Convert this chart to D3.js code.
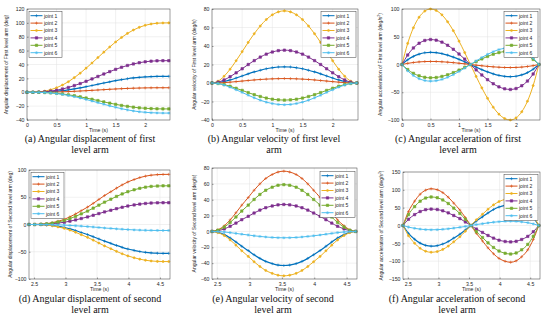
<!DOCTYPE html>
<html>
<head>
<meta charset="utf-8">
<script src="https://cdn.jsdelivr.net/npm/d3@7"></script>
<style>
    body { margin: 0; background: #fff; }
    svg { display: block; }
</style>
</head>
<body>
<div id="chart"></div>
<script>
// Joint series names, colours and marker kinds
const jointNames = ["joint 1", "joint 2", "joint 3", "joint 4", "joint 5", "joint 6"];
const jointColors = ["#0072BD", "#D95319", "#EDB120", "#7E2F8E", "#77AC30", "#4DBEEE"];
const jointMarkers = ["plus", "plus", "dot", "square", "square", "star"];

// Sample times (s)
const timeFirst = [0, 0.1, 0.2, 0.3, 0.4, 0.5, 0.6, 0.7, 0.8, 0.9, 1.0, 1.1, 1.2, 1.3, 1.4, 1.5, 1.6, 1.7, 1.8, 1.9, 2.0, 2.1, 2.2, 2.3, 2.4];
const timeSecond = [2.42, 2.51, 2.61, 2.7, 2.79, 2.88, 2.98, 3.07, 3.16, 3.25, 3.35, 3.44, 3.53, 3.62, 3.72, 3.81, 3.9, 3.99, 4.09, 4.18, 4.27, 4.36, 4.46, 4.55, 4.64];

// (a) angular displacement, first level arm (deg)
const dispFirst = [
    [0, 0, 0.1, 0.4, 0.8, 1.5, 2.4, 3.5, 4.8, 6.3, 8.0, 9.7, 11.5, 13.3, 15.0, 16.7, 18.2, 19.5, 20.6, 21.5, 22.2, 22.6, 22.9, 23.0, 23.0],
    [0, 0, 0.03, 0.1, 0.23, 0.42, 0.67, 0.99, 1.36, 1.79, 2.25, 2.74, 3.25, 3.76, 4.25, 4.71, 5.14, 5.51, 5.83, 6.08, 6.27, 6.4, 6.47, 6.5, 6.5],
    [0, 0.1, 0.5, 1.6, 3.6, 6.5, 10.4, 15.2, 21, 27.5, 34.7, 42.2, 50, 57.8, 65.3, 72.5, 79, 84.8, 89.7, 93.6, 96.5, 98.4, 99.5, 99.9, 100],
    [0, 0, 0.2, 0.7, 1.6, 2.9, 4.7, 6.9, 9.6, 12.5, 15.8, 19.2, 22.8, 26.3, 29.7, 33, 36, 38.6, 40.8, 42.6, 43.9, 44.8, 45.3, 45.5, 45.5],
    [0, 0, -0.1, -0.4, -0.9, -1.5, -2.5, -3.7, -5, -6.6, -8.3, -10.1, -12, -13.9, -15.7, -17.4, -19, -20.3, -21.5, -22.5, -23.1, -23.6, -23.9, -24, -24],
    [0, 0, -0.2, -0.5, -1.1, -1.9, -3.1, -4.6, -6.3, -8.3, -10.4, -12.7, -15, -17.3, -19.6, -21.7, -23.7, -25.4, -26.9, -28.1, -28.9, -29.5, -29.8, -30, -30]
];

// (b) angular velocity, first level arm (deg/s)
const velFirst = [
    [0, 0.5, 1.6, 3.3, 5.4, 7.6, 9.9, 12, 13.8, 15.4, 16.5, 17.3, 17.5, 17.3, 16.5, 15.4, 13.8, 12, 9.9, 7.6, 5.4, 3.3, 1.6, 0.5, 0],
    [0, 0.1, 0.4, 0.9, 1.5, 2.1, 2.7, 3.3, 3.8, 4.2, 4.5, 4.7, 4.8, 4.7, 4.5, 4.2, 3.8, 3.3, 2.7, 2.1, 1.5, 0.9, 0.4, 0.1, 0],
    [0, 2, 7.3, 14.9, 24.1, 33.9, 43.9, 53.3, 61.6, 68.6, 73.7, 76.9, 78, 76.9, 73.7, 68.6, 61.6, 53.3, 43.9, 33.9, 24.1, 14.9, 7.3, 2, 0],
    [0, 0.9, 3.3, 6.8, 11, 15.4, 20, 24.2, 28, 31.2, 33.5, 35, 35.5, 35, 33.5, 31.2, 28, 24.2, 20, 15.4, 11, 6.8, 3.3, 0.9, 0],
    [0, -0.5, -1.7, -3.5, -5.7, -8, -10.4, -12.6, -14.6, -16.3, -17.5, -18.2, -18.5, -18.2, -17.5, -16.3, -14.6, -12.6, -10.4, -8, -5.7, -3.5, -1.7, -0.5, 0],
    [0, -0.6, -2.2, -4.5, -7.3, -10.2, -13.2, -16, -18.6, -20.7, -22.2, -23.2, -23.5, -23.2, -22.2, -20.7, -18.6, -16, -13.2, -10.2, -7.3, -4.5, -2.2, -0.6, 0]
];

// (c) angular acceleration, first level arm (deg/s^2)
const accFirst = [
    [0, 8.4, 14.6, 18.7, 21.2, 22, 21.4, 19.7, 16.9, 13.4, 9.3, 4.7, 0, -4.7, -9.3, -13.4, -16.9, -19.7, -21.4, -22, -21.2, -18.7, -14.6, -8.4, 0],
    [0, 2.1, 3.6, 4.7, 5.3, 5.5, 5.4, 4.9, 4.2, 3.4, 2.3, 1.2, 0, -1.2, -2.3, -3.4, -4.2, -4.9, -5.4, -5.5, -5.3, -4.7, -3.6, -2.1, 0],
    [0, 38, 66.2, 85.2, 96.2, 100, 97.4, 89.5, 77, 60.9, 42.1, 21.5, 0, -21.5, -42.1, -60.9, -77, -89.5, -97.4, -100, -96.2, -85.2, -66.2, -38, 0],
    [0, 17.1, 29.8, 38.3, 43.3, 45, 43.8, 40.3, 34.7, 27.4, 18.9, 9.7, 0, -9.7, -18.9, -27.4, -34.7, -40.3, -43.8, -45, -43.3, -38.3, -29.8, -17.1, 0],
    [0, -9.1, -15.9, -20.4, -23.1, -24, -23.4, -21.5, -18.5, -14.6, -10.1, -5.2, 0, 5.2, 10.1, 14.6, 18.5, 21.5, 23.4, 24, 23.1, 20.4, 15.9, 9.1, 0],
    [0, -11.4, -19.9, -25.6, -28.9, -30, -29.2, -26.9, -23.1, -18.3, -12.6, -6.5, 0, 6.5, 12.6, 18.3, 23.1, 26.9, 29.2, 30, 28.9, 25.6, 19.9, 11.4, 0]
];

// (d) angular displacement, second level arm (deg)
const dispSecond = [
    [0, 0, -0.3, -0.9, -1.9, -3.4, -5.5, -8.1, -11.1, -14.6, -18.4, -22.4, -26.5, -30.6, -34.6, -38.4, -41.9, -44.9, -47.5, -49.6, -51.1, -52.1, -52.7, -53, -53],
    [0, 0.1, 0.5, 1.5, 3.3, 5.9, 9.5, 14, 19.3, 25.3, 31.9, 38.8, 46, 53.2, 60.1, 66.7, 72.7, 78, 82.5, 86.1, 88.7, 90.5, 91.5, 91.9, 92],
    [0, 0, -0.3, -1.1, -2.4, -4.4, -7, -10.3, -14.3, -18.7, -23.6, -28.7, -34, -39.3, -44.4, -49.3, -53.7, -57.6, -61, -63.6, -65.6, -66.9, -67.7, -68, -68],
    [0, 0, 0.2, 0.6, 1.4, 2.6, 4.1, 6.1, 8.4, 11, 13.9, 16.9, 20, 23.1, 26.1, 29, 31.6, 33.9, 35.9, 37.4, 38.6, 39.4, 39.8, 40, 40],
    [0, 0, 0.4, 1.1, 2.5, 4.6, 7.3, 10.8, 14.9, 19.5, 24.6, 30, 35.5, 41, 46.4, 51.5, 56.1, 60.2, 63.7, 66.4, 68.5, 69.9, 70.6, 71, 71],
    [0, 0, -0.1, -0.2, -0.4, -0.7, -1.1, -1.7, -2.3, -3, -3.8, -4.6, -5.5, -6.4, -7.2, -8, -8.7, -9.3, -9.9, -10.3, -10.6, -10.8, -10.9, -11, -11]
];

// (e) angular velocity, second level arm (deg/s)
const velSecond = [
    [0, -1.1, -4, -8.2, -13.3, -18.7, -24.2, -29.4, -34, -37.8, -40.6, -42.4, -43, -42.4, -40.6, -37.8, -34, -29.4, -24.2, -18.7, -13.3, -8.2, -4, -1.1, 0],
    [0, 2, 7.1, 14.5, 23.5, 33.1, 42.8, 51.9, 60, 66.8, 71.8, 74.9, 76, 74.9, 71.8, 66.8, 60, 51.9, 42.8, 33.1, 23.5, 14.5, 7.1, 2, 0],
    [0, -1.5, -5.2, -10.7, -17.3, -24.4, -31.5, -38.2, -44.2, -49.2, -52.9, -55.2, -56, -55.2, -52.9, -49.2, -44.2, -38.2, -31.5, -24.4, -17.3, -10.7, -5.2, -1.5, 0],
    [0, 0.9, 3.2, 6.5, 10.5, 14.8, 19.1, 23.2, 26.9, 29.9, 32.1, 33.5, 34, 33.5, 32.1, 29.9, 26.9, 23.2, 19.1, 14.8, 10.5, 6.5, 3.2, 0.9, 0],
    [0, 1.5, 5.5, 11.3, 18.2, 25.7, 33.2, 40.3, 46.6, 51.9, 55.8, 58.2, 59, 58.2, 55.8, 51.9, 46.6, 40.3, 33.2, 25.7, 18.2, 11.3, 5.5, 1.5, 0],
    [0, -0.2, -0.7, -1.5, -2.5, -3.5, -4.5, -5.5, -6.3, -7, -7.6, -7.9, -8, -7.9, -7.6, -7, -6.3, -5.5, -4.5, -3.5, -2.5, -1.5, -0.7, -0.2, 0]
];

// (f) angular acceleration, second level arm (deg/s^2)
const accSecond = [
    [0, -22, -38.4, -49.4, -55.8, -58, -56.5, -51.9, -44.7, -35.3, -24.4, -12.5, 0, 12.5, 24.4, 35.3, 44.7, 51.9, 56.5, 58, 55.8, 49.4, 38.4, 22, 0],
    [0, 39.1, 68.2, 87.8, 99.1, 103, 100.3, 92.2, 79.3, 62.7, 43.4, 22.1, 0, -22.1, -43.4, -62.7, -79.3, -92.2, -100.3, -103, -99.1, -87.8, -68.2, -39.1, 0],
    [0, -28.5, -49.7, -63.9, -72.2, -75, -73.1, -67.1, -57.8, -45.7, -31.6, -16.1, 0, 16.1, 31.6, 45.7, 57.8, 67.1, 73.1, 75, 72.2, 63.9, 49.7, 28.5, 0],
    [0, 17.5, 30.5, 39.2, 44.3, 46, 44.8, 41.2, 35.4, 28, 19.4, 9.9, 0, -9.9, -19.4, -28, -35.4, -41.2, -44.8, -46, -44.3, -39.2, -30.5, -17.5, 0],
    [0, 30.4, 53, 68.2, 77, 80, 77.9, 71.6, 61.6, 48.7, 33.7, 17.2, 0, -17.2, -33.7, -48.7, -61.6, -71.6, -77.9, -80, -77, -68.2, -53, -30.4, 0],
    [0, -4.6, -7.9, -10.2, -11.5, -12, -11.7, -10.7, -9.2, -7.3, -5.1, -2.6, 0, 2.6, 5.1, 7.3, 9.2, 10.7, 11.7, 12, 11.5, 10.2, 7.9, 4.6, 0]
];

// Tick values
const xTicksFirst = [0, 0.5, 1, 1.5, 2];
const xTicksSecond = [2.5, 3, 3.5, 4, 4.5];
const yTicksDispFirst = [-40, -20, 0, 20, 40, 60, 80, 100, 120];
const yTicksVelFirst = [-40, -20, 0, 20, 40, 60, 80];
const yTicksAccFirst = [-100, -50, 0, 50, 100];
const yTicksDispSecond = [-100, -50, 0, 50, 100];
const yTicksVelSecond = [-60, -40, -20, 0, 20, 40, 60, 80];
const yTicksAccSecond = [-150, -100, -50, 0, 50, 100, 150];

const width = 550;
const height = 323;
const sans = "'Liberation Sans', Arial, sans-serif";
const serif = "'Liberation Serif', 'Times New Roman', serif";

const svg = d3.select("#chart")
    .append("svg")
    .attr("width", width)
    .attr("height", height);

// small marker glyphs like the MATLAB ones
function markerPath(kind, s) {
    if (kind === "plus") return `M${-s},0H${s}M0,${-s}V${s}`;
    if (kind === "star") {
        const d = s * 0.7;
        return `M${-s},0H${s}M0,${-s}V${s}M${-d},${-d}L${d},${d}M${-d},${d}L${d},${-d}`;
    }
    if (kind === "square") return `M${-s * 0.8},${-s * 0.8}H${s * 0.8}V${s * 0.8}H${-s * 0.8}Z`;
    return d3.symbol(d3.symbolCircle, Math.PI * s * s * 0.5)();
}

function drawPanel(p) {
    const xScale = d3.scaleLinear().domain(p.xDomain).range([p.left, p.right]);
    const yScale = d3.scaleLinear().domain(p.yDomain).range([p.bottom, p.top]);
    const g = svg.append("g");

    // grid
    g.selectAll(".gx").data(p.xTicks).enter().append("line")
        .attr("x1", d => xScale(d)).attr("x2", d => xScale(d))
        .attr("y1", p.top).attr("y2", p.bottom)
        .attr("stroke", "#e3e3e3").attr("stroke-width", 0.5);
    g.selectAll(".gy").data(p.yTicks).enter().append("line")
        .attr("x1", p.left).attr("x2", p.right)
        .attr("y1", d => yScale(d)).attr("y2", d => yScale(d))
        .attr("stroke", "#e3e3e3").attr("stroke-width", 0.5);

    // axes
    const xAxis = g.append("g")
        .attr("transform", `translate(0,${p.bottom})`)
        .call(d3.axisBottom(xScale).tickValues(p.xTicks).tickSize(-1.5).tickPadding(3).tickFormat(d3.format("")));
    const yAxis = g.append("g")
        .attr("transform", `translate(${p.left},0)`)
        .call(d3.axisLeft(yScale).tickValues(p.yTicks).tickSize(-1.5).tickPadding(2.5).tickFormat(d3.format("")));
    [xAxis, yAxis].forEach(a => {
        a.select(".domain").remove();
        a.selectAll("line").attr("stroke", "#404040").attr("stroke-width", 0.5);
        a.selectAll("text").attr("font-family", sans).attr("font-size", 5.2).attr("fill", "#262626");
    });

    // series
    const line = d3.line()
        .x((d, i) => xScale(p.time[i]))
        .y(d => yScale(d))
        .curve(d3.curveMonotoneX);

    p.series.forEach((values, j) => {
        const col = jointColors[j];
        g.append("path")
            .attr("d", line(values))
            .attr("fill", "none")
            .attr("stroke", col)
            .attr("stroke-width", j === 0 ? 1.2 : 1.0);
        g.selectAll(`.m${j}`).data(values).enter().append("path")
            .attr("transform", (d, i) => `translate(${xScale(p.time[i])},${yScale(d)})`)
            .attr("d", markerPath(jointMarkers[j], 1.5))
            .attr("fill", jointMarkers[j] === "dot" || jointMarkers[j] === "square" ? col : "none")
            .attr("stroke", col)
            .attr("stroke-width", 0.6);
    });

    // frame
    g.append("rect")
        .attr("x", p.left).attr("y", p.top)
        .attr("width", p.right - p.left).attr("height", p.bottom - p.top)
        .attr("fill", "none").attr("stroke", "#404040").attr("stroke-width", 0.5);

    // legend
    const lg = p.legend;
    const step = 7.4;
    const leg = g.append("g").attr("transform", `translate(${lg.x},${lg.y})`);
    leg.append("rect")
        .attr("width", lg.w).attr("height", step * 6 + 1.5)
        .attr("fill", "#fff").attr("stroke", "#404040").attr("stroke-width", 0.5);
    jointNames.forEach((name, j) => {
        const cy = 4.2 + j * step;
        leg.append("line")
            .attr("x1", 1.5).attr("x2", 13.5).attr("y1", cy).attr("y2", cy)
            .attr("stroke", jointColors[j]).attr("stroke-width", 1);
        leg.append("path")
            .attr("transform", `translate(7.5,${cy})`)
            .attr("d", markerPath(jointMarkers[j], 1.5))
            .attr("fill", jointMarkers[j] === "plus" || jointMarkers[j] === "star" ? "none" : jointColors[j])
            .attr("stroke", jointColors[j]).attr("stroke-width", 0.6);
        leg.append("text")
            .attr("x", 15).attr("y", cy + 1.8)
            .attr("font-family", sans).attr("font-size", 5).attr("fill", "#262626")
            .text(name);
    });

    // axis titles
    g.append("text")
        .attr("x", (p.left + p.right) / 2).attr("y", p.bottom + 12)
        .attr("text-anchor", "middle")
        .attr("font-family", sans).attr("font-size", 5.2).attr("fill", "#262626")
        .text("Time (s)");

    const yl = g.append("text")
        .attr("transform", `translate(${p.labelX},${(p.top + p.bottom) / 2}) rotate(-90)`)
        .attr("text-anchor", "middle")
        .attr("font-family", sans).attr("font-size", 5).attr("fill", "#262626");
    yl.append("tspan").text(p.yLabel);
    if (p.squared) {
        yl.append("tspan").attr("font-size", 3.5).attr("dy", -1.8).text("2");
        yl.append("tspan").attr("dy", 1.8).text(")");
    }

    // caption
    p.caption.forEach((txt, k) => {
        g.append("text")
            .attr("x", p.capX).attr("y", p.capY + k * 11)
            .attr("text-anchor", "middle")
            .attr("font-family", serif).attr("font-size", 10).attr("fill", "#111")
            .text(txt);
    });
}

const panels = [
    {left: 27, right: 170, top: 9, bottom: 120, xDomain: [0, 2.42], yDomain: [-40, 120],
     xTicks: xTicksFirst, yTicks: yTicksDispFirst, time: timeFirst, series: dispFirst,
     labelX: 8, yLabel: "Angular displacement of First level arm (deg)",
     legend: {x: 29, y: 11.5, w: 33}, capX: 90, capY: 142,
     caption: ["(a) Angular displacement of first", "level arm"]},
    {left: 212, right: 358, top: 9, bottom: 120, xDomain: [0, 2.42], yDomain: [-40, 80],
     xTicks: xTicksFirst, yTicks: yTicksVelFirst, time: timeFirst, series: velFirst,
     labelX: 196, yLabel: "Angular velocity of First level arm (deg/s)",
     legend: {x: 321, y: 11.5, w: 35}, capX: 274, capY: 142,
     caption: ["(b) Angular velocity of first level", "arm"]},
    {left: 402, right: 540, top: 9, bottom: 120, xDomain: [0, 2.42], yDomain: [-100, 100],
     xTicks: xTicksFirst, yTicks: yTicksAccFirst, time: timeFirst, series: accFirst,
     labelX: 382, yLabel: "Angular acceleration of First level arm (deg/s", squared: true,
     legend: {x: 504, y: 11.5, w: 34}, capX: 458, capY: 142,
     caption: ["(c) Angular acceleration of first", "level arm"]},
    {left: 29, right: 170, top: 170, bottom: 279, xDomain: [2.42, 4.66], yDomain: [-100, 100],
     xTicks: xTicksSecond, yTicks: yTicksDispSecond, time: timeSecond, series: dispSecond,
     labelX: 12, yLabel: "Angular displacement of Second level arm (deg)",
     legend: {x: 31, y: 172.5, w: 33}, capX: 90, capY: 302,
     caption: ["(d) Angular displacement of second", "level arm"]},
    {left: 212, right: 357, top: 168, bottom: 279, xDomain: [2.42, 4.66], yDomain: [-60, 80],
     xTicks: xTicksSecond, yTicks: yTicksVelSecond, time: timeSecond, series: velSecond,
     labelX: 196, yLabel: "Angular velocity of Second level arm (deg/s)",
     legend: {x: 320, y: 171.5, w: 35}, capX: 273, capY: 302,
     caption: ["(e) Angular velocity of second", "level arm"]},
    {left: 403, right: 540, top: 172, bottom: 279, xDomain: [2.42, 4.66], yDomain: [-150, 150],
     xTicks: xTicksSecond, yTicks: yTicksAccSecond, time: timeSecond, series: accSecond,
     labelX: 383, yLabel: "Angular acceleration of Second level arm (deg/s", squared: true,
     legend: {x: 504, y: 174.5, w: 34}, capX: 457, capY: 302,
     caption: ["(f) Angular acceleration of second", "level arm"]}
];

panels.forEach(drawPanel);
</script>
</body>
</html>
